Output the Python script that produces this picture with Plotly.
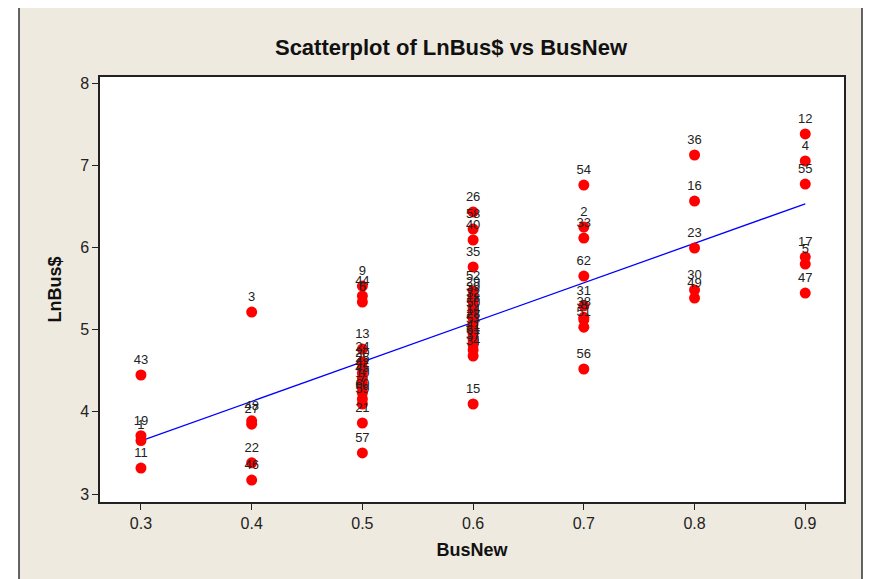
import numpy as np
import plotly.graph_objects as go

# Data
bus_new = [0.3, 0.3, 0.3, 0.3,
           0.4, 0.4, 0.4, 0.4, 0.4,
           0.5, 0.5, 0.5, 0.5, 0.5, 0.5, 0.5, 0.5, 0.5, 0.5, 0.5, 0.5, 0.5, 0.5, 0.5,
           0.6, 0.6, 0.6, 0.6, 0.6, 0.6, 0.6, 0.6, 0.6, 0.6, 0.6, 0.6, 0.6, 0.6, 0.6, 0.6, 0.6, 0.6,
           0.7, 0.7, 0.7, 0.7, 0.7, 0.7, 0.7, 0.7, 0.7,
           0.8, 0.8, 0.8, 0.8, 0.8,
           0.9, 0.9, 0.9, 0.9, 0.9, 0.9]
ln_bus = [4.448, 3.71, 3.65, 3.316,
          5.214, 3.89, 3.85, 3.38, 3.17,
          5.530, 5.409, 5.336, 4.764, 4.606, 4.533, 4.472, 4.411, 4.350, 4.290, 4.229, 4.156, 4.095, 3.864, 3.50,
          6.431, 6.224, 6.090, 5.762, 5.470, 5.397, 5.336, 5.263, 5.202, 5.141, 5.068, 5.007, 4.946, 4.873, 4.813, 4.752, 4.679, 4.095,
          6.759, 6.248, 6.114, 5.652, 5.29, 5.15, 5.12, 5.03, 4.521,
          7.124, 6.564, 5.993, 5.482, 5.384,
          7.380, 7.051, 6.771, 5.883, 5.798, 5.445]
point_labels = ["43", "19", "1", "11",
                "3", "48", "27", "22", "46",
                "9", "44", "6", "13", "24", "20", "25", "42", "45", "10", "7", "60", "59", "21", "57",
                "26", "58", "40", "35", "52", "29", "39", "32", "18", "50", "14", "28", "53", "41", "61", "37", "34", "15",
                "54", "2", "33", "62", "31", "38", "8", "51", "56",
                "36", "16", "23", "30", "49",
                "12", "4", "55", "17", "5", "47"]

x_ticks = [0.3, 0.4, 0.5, 0.6, 0.7, 0.8, 0.9]
y_ticks = [3, 4, 5, 6, 7, 8]

slope, intercept = np.polyfit(bus_new, ln_bus, 1)
fit_x = [min(bus_new), max(bus_new)]
fit_y = [intercept + slope * v for v in fit_x]

BEIGE = "#EEEAE0"
FONT = "Liberation Sans, Arial, sans-serif"

fig = go.Figure()
fig.add_trace(go.Scatter(x=fit_x, y=fit_y, mode="lines",
                         line=dict(color="#0000FF", width=1.3), hoverinfo="skip"))
fig.add_trace(go.Scatter(x=bus_new, y=ln_bus, mode="markers+text",
                         text=point_labels, textposition="top center",
                         textfont=dict(family=FONT, size=13, color="#222222"),
                         marker=dict(color="#FF0000", size=11, line=dict(width=0))))

# page has an 8px body margin; work in reference pixels shifted by OFF
OFF = 8
W, H = 876 - OFF, 579 - OFF
L, T = 100 - OFF, 77 - OFF
R = W - (844 - OFF)
B = H - (502 - OFF)
pw, ph = W - L - R, H - T - B

def px_x(p):
    return (p - OFF - L) / pw

def px_y(p):
    return (H - B - (p - OFF)) / ph

shapes = [
    dict(type="rect", xref="paper", yref="paper", x0=px_x(-20), x1=px_x(19), y0=px_y(620), y1=px_y(-20),
         fillcolor="white", line=dict(width=0), layer="below"),
    dict(type="rect", xref="paper", yref="paper", x0=px_x(862), x1=px_x(900), y0=px_y(620), y1=px_y(-20),
         fillcolor="white", line=dict(width=0), layer="below"),
    dict(type="rect", xref="paper", yref="paper", x0=px_x(-20), x1=px_x(900), y0=px_y(5), y1=px_y(-20),
         fillcolor="white", line=dict(width=0), layer="below"),
    dict(type="rect", xref="paper", yref="paper", x0=px_x(19), x1=px_x(862), y0=px_y(620), y1=px_y(5),
         fillcolor="rgba(0,0,0,0)", line=dict(color="#333333", width=1.5), layer="below"),
]

fig.update_layout(
    width=W, height=H,
    margin=dict(l=L, r=R, t=T, b=B, autoexpand=False),
    paper_bgcolor=BEIGE, plot_bgcolor="white",
    showlegend=False,
    shapes=shapes,
    title=dict(text="<b>Scatterplot of LnBus$ vs BusNew</b>", x=px_x(451), xref="paper", xanchor="center",
               y=1 - (47 - OFF) / H, yanchor="middle",
               font=dict(family=FONT, size=22, color="#111111")),
    xaxis=dict(range=[0.263, 0.935], tickvals=x_ticks, ticktext=[f"{v:.1f}" for v in x_ticks],
               ticks="outside", ticklen=6, tickcolor="#222", showline=True, linecolor="#222", linewidth=1.5,
               mirror=True, showgrid=False, zeroline=False,
               tickfont=dict(family=FONT, size=16, color="#222"),
               title=dict(text="<b>BusNew</b>", font=dict(family=FONT, size=18, color="#111"), standoff=12)),
    yaxis=dict(range=[2.903, 8.073], tickvals=y_ticks, ticktext=[str(v) for v in y_ticks],
               ticks="outside", ticklen=6, tickcolor="#222", showline=True, linecolor="#222", linewidth=1.5,
               mirror=True, showgrid=False, zeroline=False,
               tickfont=dict(family=FONT, size=16, color="#222"),
               title=dict(text="<b>LnBus$</b>", font=dict(family=FONT, size=18, color="#111"), standoff=14)),
)

fig.write_html("out.html")
